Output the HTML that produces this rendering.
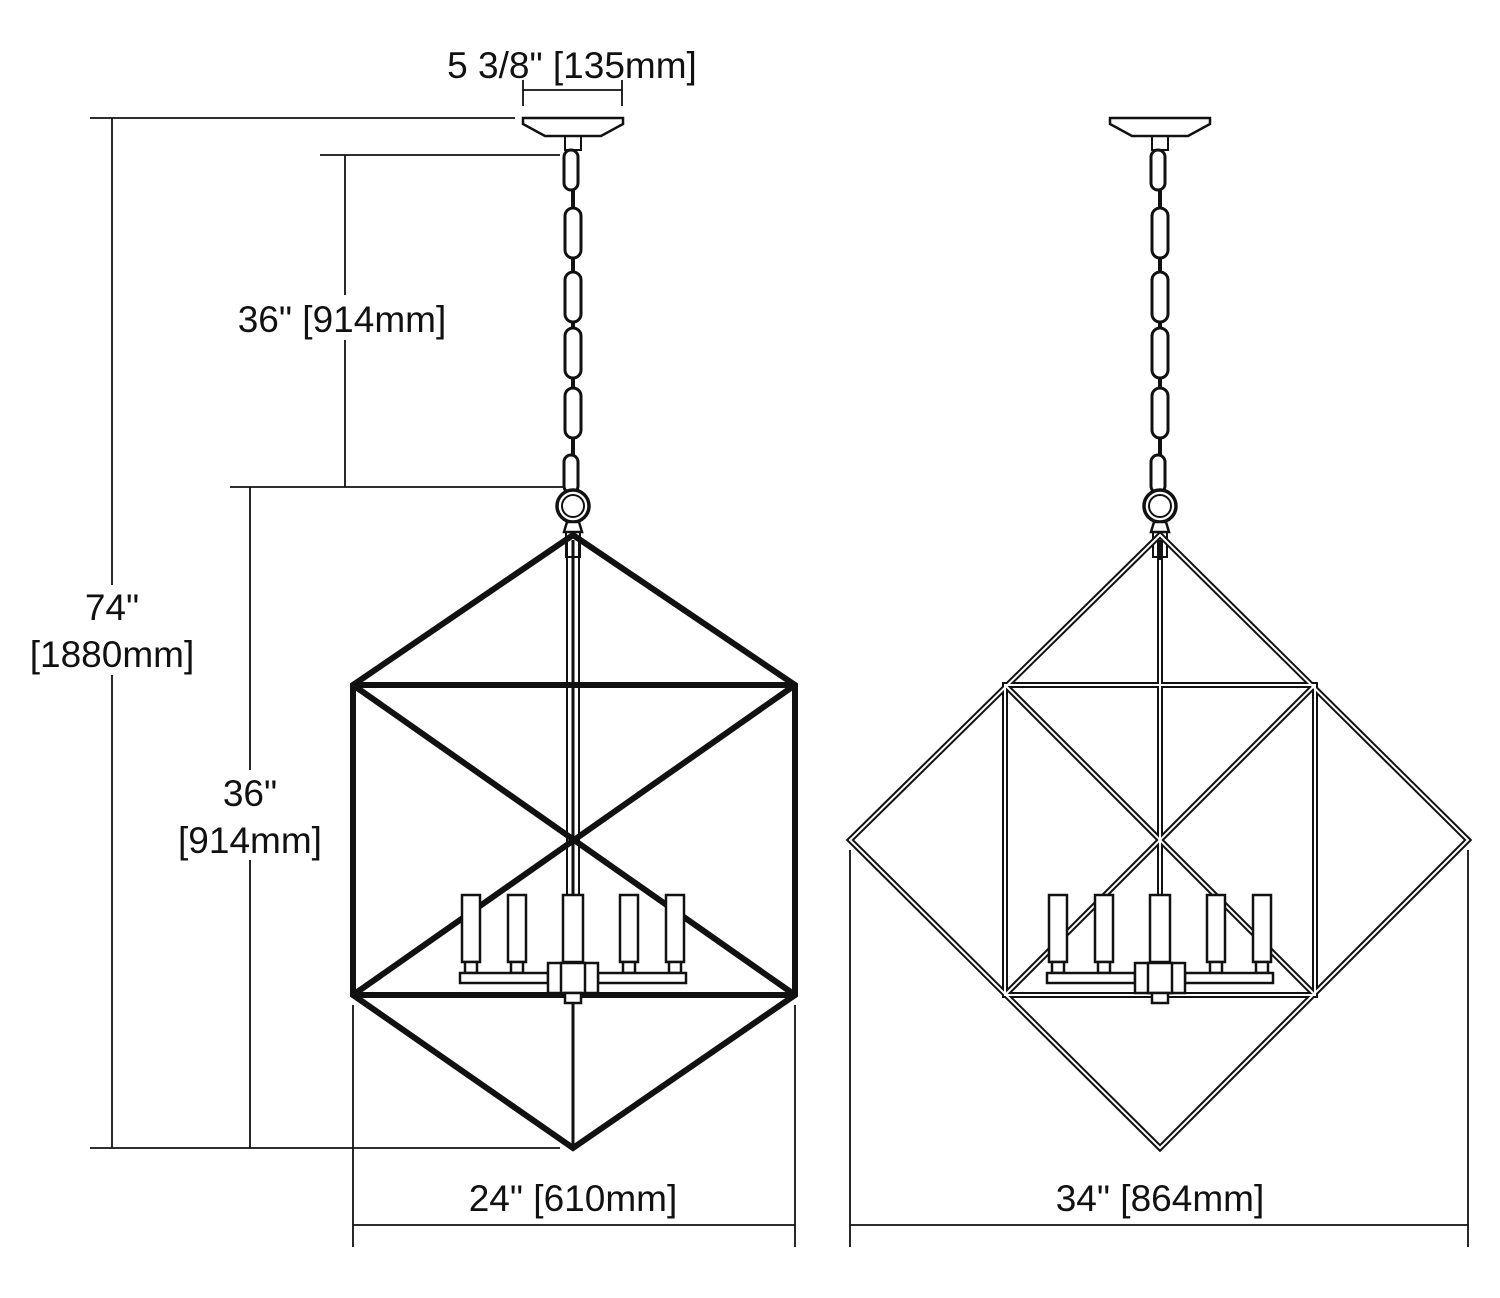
<!DOCTYPE html>
<html><head><meta charset="utf-8"><style>
body{margin:0;background:#fff}
svg{display:block}
text{font-family:"Liberation Sans",sans-serif;font-size:37px;fill:#111}
</style></head><body>
<svg width="1500" height="1298" viewBox="0 0 1500 1298" xmlns="http://www.w3.org/2000/svg">
<defs>
<g id="chain" fill="none" stroke="#111">
  <path d="M-50,118 L50,118 L50,124 L28,136 L-28,136 L-50,124 Z" stroke-width="2.5" fill="#fff"/>
  <rect x="-8" y="136" width="16" height="14" stroke-width="2"/>
  <line x1="0" y1="150" x2="0" y2="490" stroke-width="4"/>
  <rect x="-9" y="150" width="14" height="40" rx="7" stroke-width="3" fill="#fff"/>
  <rect x="-8" y="208" width="16" height="50" rx="8" stroke-width="3" fill="#fff"/>
  <rect x="-8" y="272" width="16" height="50" rx="8" stroke-width="3" fill="#fff"/>
  <rect x="-8" y="328" width="16" height="50" rx="8" stroke-width="3" fill="#fff"/>
  <rect x="-8" y="388" width="16" height="50" rx="8" stroke-width="3" fill="#fff"/>
  <rect x="-9" y="455" width="14" height="38" rx="7" stroke-width="3" fill="#fff"/>
  <circle cx="0" cy="506" r="16" stroke-width="3.5" fill="#fff"/>
  <circle cx="0" cy="506" r="11" stroke-width="2" fill="#fff"/>
  <path d="M-6,522 L6,522 L9,532 L-9,532 Z" stroke-width="2.5" fill="#fff"/>
  <rect x="-7" y="532" width="14" height="25" stroke-width="2"/>
</g>
<g id="cand" fill="#fff" stroke="#111" stroke-width="2.5">
  <rect x="-111" y="895" width="18" height="67"/>
  <rect x="-65" y="895" width="18" height="67"/>
  <rect x="-10" y="895" width="20" height="67"/>
  <rect x="47" y="895" width="18" height="67"/>
  <rect x="93" y="895" width="18" height="67"/>
  <rect x="-108" y="962" width="12" height="11"/>
  <rect x="-62" y="962" width="12" height="11"/>
  <rect x="50" y="962" width="12" height="11"/>
  <rect x="96" y="962" width="12" height="11"/>
  <rect x="-113" y="973" width="88" height="10"/>
  <rect x="25" y="973" width="88" height="10"/>
  <rect x="-25" y="963" width="50" height="30"/>
  <rect x="-12" y="963" width="24" height="30"/>
  <rect x="-8" y="993" width="16" height="10"/>
</g>
</defs>

<!-- LEFT fixture -->
<use href="#chain" x="573"/>
<line x1="573" y1="540" x2="573" y2="1148" stroke="#111" stroke-width="3"/>
<line x1="567" y1="540" x2="567" y2="895" stroke="#111" stroke-width="2"/>
<line x1="579" y1="540" x2="579" y2="895" stroke="#111" stroke-width="2"/>
<g stroke="#111" stroke-width="6" fill="none" stroke-linejoin="miter">
  <polygon points="573,535 795,685 795,995 573,1148 353,995 353,685"/>
  <line x1="353" y1="685" x2="795" y2="685"/>
  <line x1="353" y1="995" x2="795" y2="995"/>
  <line x1="353" y1="685" x2="795" y2="995"/>
  <line x1="795" y1="685" x2="353" y2="995"/>
</g>
<use href="#cand" x="573"/>

<!-- RIGHT fixture -->
<use href="#chain" x="1160"/>
<g fill="none" stroke-linejoin="miter">
  <g stroke="#111" stroke-width="6">
    <polygon points="1160,535 1468,840 1160,1148 850,840"/>
    <rect x="1005" y="685" width="310" height="310"/>
    <line x1="1005" y1="685" x2="1315" y2="995"/>
    <line x1="1315" y1="685" x2="1005" y2="995"/>
    <line x1="1160" y1="540" x2="1160" y2="895"/>
  </g>
  <g stroke="#fff" stroke-width="2">
    <polygon points="1160,535 1468,840 1160,1148 850,840"/>
    <rect x="1005" y="685" width="310" height="310"/>
    <line x1="1005" y1="685" x2="1315" y2="995"/>
    <line x1="1315" y1="685" x2="1005" y2="995"/>
    <line x1="1160" y1="560" x2="1160" y2="895"/>
  </g>
</g>
<use href="#cand" x="1160"/>

<!-- dimension lines -->
<g stroke="#111" stroke-width="1.8">
  <line x1="523" y1="80" x2="523" y2="106"/>
  <line x1="622" y1="80" x2="622" y2="106"/>
  <line x1="523" y1="90" x2="622" y2="90"/>
  <line x1="90" y1="118" x2="515" y2="118"/>
  <line x1="90" y1="1148" x2="560" y2="1148"/>
  <line x1="112" y1="118" x2="112" y2="1148"/>
  <line x1="320" y1="155" x2="560" y2="155"/>
  <line x1="230" y1="487" x2="565" y2="487"/>
  <line x1="345" y1="155" x2="345" y2="487"/>
  <line x1="250" y1="487" x2="250" y2="1148"/>
  <line x1="353" y1="1005" x2="353" y2="1247"/>
  <line x1="795" y1="1005" x2="795" y2="1247"/>
  <line x1="353" y1="1225" x2="795" y2="1225"/>
  <line x1="850" y1="850" x2="850" y2="1247"/>
  <line x1="1468" y1="850" x2="1468" y2="1247"/>
  <line x1="850" y1="1225" x2="1468" y2="1225"/>
</g>
<g fill="#fff">
  <rect x="225" y="295" width="235" height="45"/>
  <rect x="25" y="585" width="175" height="90"/>
  <rect x="170" y="770" width="160" height="90"/>
</g>
<g text-anchor="middle">
  <text x="572" y="78">5 3/8" [135mm]</text>
  <text x="342" y="332">36" [914mm]</text>
  <text x="112" y="620">74"</text>
  <text x="112" y="667">[1880mm]</text>
  <text x="250" y="806">36"</text>
  <text x="250" y="853">[914mm]</text>
  <text x="573" y="1211">24" [610mm]</text>
  <text x="1160" y="1211">34" [864mm]</text>
</g>
</svg>
</body></html>
